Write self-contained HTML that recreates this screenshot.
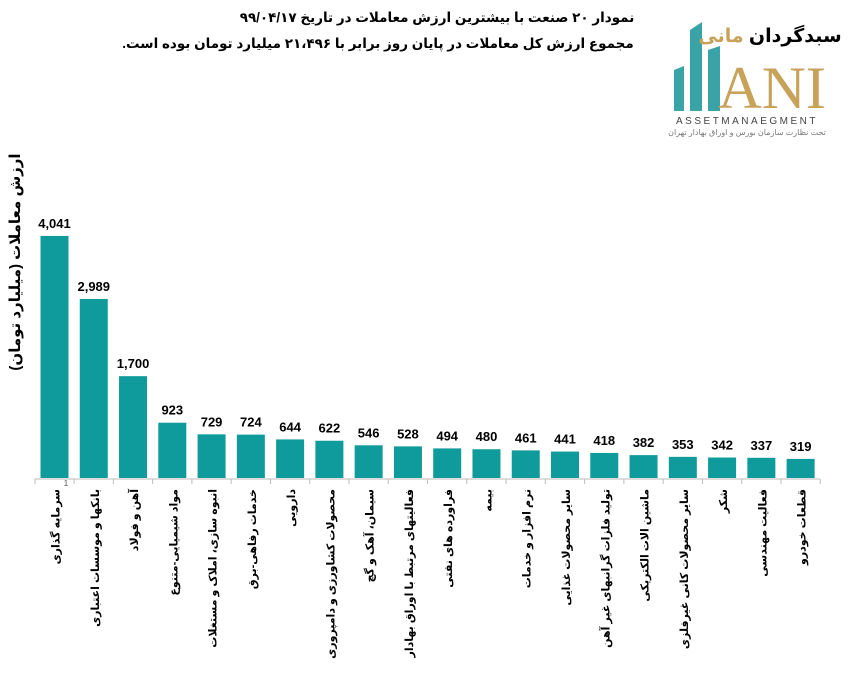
<!DOCTYPE html>
<html><head><meta charset="utf-8"><style>
body{margin:0;background:#fff;width:854px;height:681px;overflow:hidden;font-family:"Liberation Sans","Noto Sans CJK SC",sans-serif}
</style></head><body>
<svg width="854" height="681" xmlns="http://www.w3.org/2000/svg" font-family="Liberation Sans, DejaVu Sans, sans-serif">
<text x="437" y="22" font-size="13.5" font-weight="bold" text-anchor="middle" direction="rtl">نمودار ۲۰ صنعت با بیشترین ارزش معاملات در تاریخ ۹۹/۰۴/۱۷</text>
<text x="378" y="48" font-size="13.5" font-weight="bold" text-anchor="middle" direction="rtl">مجموع ارزش  کل معاملات در پایان روز برابر با ۲۱،۴۹۶ میلیارد تومان بوده است.</text>
<g>
<polygon points="674,70 684,66 684,111 674,111" fill="#3aa3a8"/>
<polygon points="690,30 702,22 702,111 690,111" fill="#3aa3a8"/>
<polygon points="708,50 720,46 720,111 708,111" fill="#3aa3a8"/>
<text x="770" y="42" font-size="19" font-weight="bold" text-anchor="middle" direction="rtl">سبدگردان <tspan fill="#c9a25a">مانی</tspan></text>
<text x="772" y="108" font-size="60" font-family="Liberation Serif, serif" fill="#c9a25a" text-anchor="middle" textLength="108" lengthAdjust="spacingAndGlyphs">ANI</text>
<text x="747" y="124" font-size="10" fill="#444" text-anchor="middle" letter-spacing="2.5">ASSETMANAEGMENT</text>
<text x="747" y="135" font-size="8" fill="#777" text-anchor="middle" direction="rtl">تحت نظارت سازمان بورس و اوراق بهادار تهران</text>
</g>
<text transform="translate(16,262) rotate(-90)" font-size="15" font-weight="bold" text-anchor="middle" direction="rtl" dominant-baseline="middle">ارزش معاملات (میلیارد تومان)</text>
<line x1="35" y1="479" x2="820" y2="479" stroke="#bbb" stroke-width="1"/>
<text x="66" y="486" font-size="8" fill="#555" text-anchor="middle">1</text>
<g id="bars"></g>
</svg>
<script>
const v=[4041,2989,1700,923,729,724,644,622,546,528,494,480,461,441,418,382,353,342,337,319];
const l=["سرمایه گذاری","بانکها و موسسات اعتباری","آهن و فولاد","مواد شیمیایی-متنوع","انبوه سازی، املاک و مستغلات","خدمات رفاهی-برق","دارویی","محصولات کشاورزی و دامپروری","سیمان، آهک و گچ","فعالیتهای مرتبط با اوراق بهادار","فراورده های نفتی","بیمه","نرم افزار و خدمات","سایر محصولات غذایی","تولید فلزات گرانبهای غیر آهن","ماشین الات الکتریکی","سایر محصولات کانی غیرفلزی","شکر","فعالیت مهندسی","قطعات خودرو"];
let s="";
for(let i=0;i<20;i++){const cx=54.5+i*39.27;const h=v[i]*0.0599;const t=478-h;
s+=`<rect x="${cx-14}" y="${t}" width="28" height="${h}" fill="#0f9b9b"/>`;
s+=`<text x="${cx}" y="${t-8}" font-size="13" font-weight="bold" text-anchor="middle">${v[i].toLocaleString('en-US')}</text>`;
s+=`<line x1="${cx+19.6}" y1="479" x2="${cx+19.6}" y2="484" stroke="#bbb"/>`;
s+=`<text transform="translate(${cx+5},489) rotate(-90)" font-size="11" font-weight="bold" direction="rtl" text-anchor="start">${l[i]}</text>`;}
s+=`<line x1="35" y1="479" x2="35" y2="484" stroke="#bbb"/>`;
document.getElementById("bars").innerHTML=s;
</script>
</body></html>
